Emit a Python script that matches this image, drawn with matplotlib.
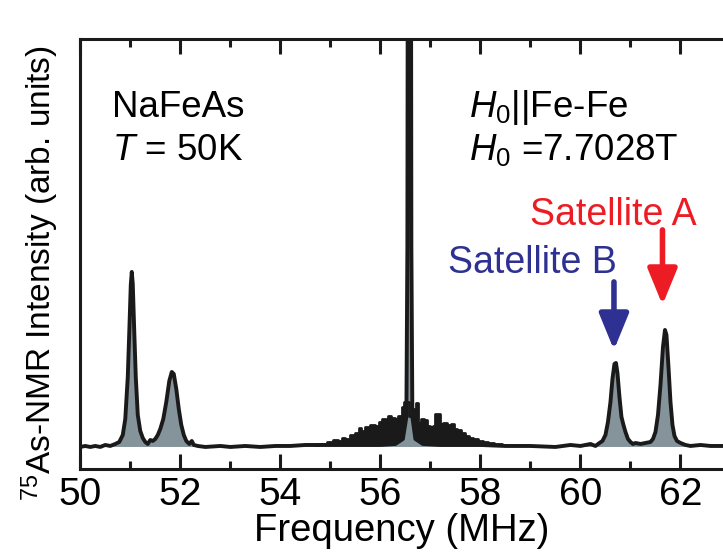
import matplotlib
matplotlib.use("Agg")
import matplotlib.pyplot as plt
from matplotlib.ticker import MultipleLocator

plt.rcParams['font.family'] = ['Liberation Sans', 'DejaVu Sans']
plt.rcParams['mathtext.fontset'] = 'custom'
plt.rcParams['mathtext.rm'] = 'Liberation Sans'
plt.rcParams['mathtext.it'] = 'Liberation Sans:italic'

# main spectrum (MHz, arb. units)
freq = [50.00, 50.10, 50.20, 50.30, 50.40, 50.50, 50.60, 50.70, 50.78, 50.85,
        50.90, 50.95, 50.98, 51.01, 51.03, 51.05, 51.08, 51.11, 51.15, 51.20,
        51.25, 51.30, 51.35, 51.40, 51.45, 51.50, 51.55, 51.60, 51.66, 51.72,
        51.78, 51.83, 51.87, 51.92, 51.97, 52.02, 52.07, 52.12, 52.18, 52.23,
        52.27, 52.35, 52.50, 52.80, 53.00, 53.30, 53.60, 53.90, 54.20, 54.50,
        54.80, 55.20, 55.60, 56.00, 56.30, 56.45, 56.52, 56.54, 56.565, 56.595,
        56.62, 56.64, 56.70, 56.85, 57.20, 57.60, 58.00, 58.50, 59.00, 59.50,
        59.80, 60.00, 60.20, 60.30, 60.38, 60.44, 60.50, 60.55, 60.60, 60.64,
        60.68, 60.71, 60.74, 60.78, 60.82, 60.86, 60.90, 60.95, 61.00, 61.05,
        61.10, 61.20, 61.30, 61.40, 61.45, 61.50, 61.55, 61.60, 61.65, 61.69,
        61.72, 61.76, 61.80, 61.84, 61.88, 61.93, 62.00, 62.10, 62.20, 62.40,
        62.60, 62.90]
intensity = [0.00, 0.01, 0.00, 0.01, 0.00, 0.02, 0.01, 0.03, 0.05, 0.12,
             0.28, 0.70, 1.15, 1.62, 1.75, 1.63, 1.15, 0.70, 0.32, 0.16,
             0.09, 0.05, 0.03, 0.07, 0.06, 0.08, 0.12, 0.18, 0.28, 0.45,
             0.66, 0.75, 0.73, 0.58, 0.38, 0.22, 0.12, 0.06, 0.03, 0.06,
             0.02, 0.01, 0.00, 0.01, 0.00, 0.01, 0.00, 0.01, 0.01, 0.02,
             0.02, 0.02, 0.02, 0.02, 0.03, 0.08, 0.30, 2.00, 12.0, 12.0,
             2.00, 0.30, 0.08, 0.03, 0.02, 0.02, 0.02, 0.01, 0.01, 0.00,
             0.02, 0.01, 0.03, 0.01, 0.04, 0.06, 0.12, 0.25, 0.45, 0.68,
             0.83, 0.84, 0.74, 0.50, 0.30, 0.22, 0.15, 0.08, 0.05, 0.03,
             0.04, 0.03, 0.04, 0.05, 0.08, 0.15, 0.32, 0.62, 1.00, 1.17,
             1.12, 0.80, 0.45, 0.22, 0.11, 0.06, 0.04, 0.02, 0.01, 0.02,
             0.01, 0.01]

# broad noisy hump around the central line (envelope)
hump_freq = [54.70, 54.85, 55.00, 55.10, 55.20, 55.25, 55.35, 55.45, 55.55, 55.58,
             55.65, 55.75, 55.85, 55.95, 56.00, 56.08, 56.14, 56.18, 56.25, 56.32,
             56.40, 56.45, 56.50, 56.66, 56.70, 56.74, 56.78, 56.84, 56.90, 56.96,
             57.02, 57.08, 57.12, 57.18, 57.22, 57.30, 57.38, 57.44, 57.50, 57.58,
             57.66, 57.74, 57.82, 57.90, 58.00, 58.10, 58.20, 58.35, 58.50]
hump_top = [0.02, 0.03, 0.05, 0.07, 0.06, 0.09, 0.08, 0.12, 0.14, 0.19,
            0.16, 0.20, 0.22, 0.21, 0.25, 0.28, 0.26, 0.31, 0.29, 0.28,
            0.31, 0.40, 0.45, 0.31, 0.38, 0.44, 0.24, 0.28, 0.27, 0.21,
            0.20, 0.21, 0.33, 0.33, 0.23, 0.24, 0.22, 0.23, 0.18, 0.17,
            0.14, 0.11, 0.09, 0.08, 0.06, 0.05, 0.04, 0.03, 0.02]

x_major = [50, 52, 54, 56, 58, 60, 62]

fig = plt.figure(figsize=(7.23, 5.55), dpi=100)
ax = fig.add_axes([0.111, 0.155, 0.889, 0.775])

ink = '#1a1a1a'
ax.fill_between(hump_freq, 0.02, hump_top, step='mid', color=ink, lw=0)
ax.step(hump_freq, hump_top, where='mid', color=ink, lw=2.0)
ax.fill_between(freq, 0, intensity, color='#85939a', lw=0)
ax.plot(freq, intensity, color=ink, lw=2.8, solid_joinstyle='round')

ax.set_xlim(50, 62.85)
ax.set_ylim(-0.22, 4.08)
ax.set_xticks(x_major)
ax.xaxis.set_minor_locator(MultipleLocator(1))
ax.set_yticks([])
ax.tick_params(axis='x', which='both', direction='in', top=True, width=2.2,
               labelsize=28, pad=6, color=ink)
ax.tick_params(axis='x', which='major', length=11)
ax.tick_params(axis='x', which='minor', length=6)
for s in ['left', 'bottom', 'top']:
    ax.spines[s].set_linewidth(2.2)
    ax.spines[s].set_color(ink)
ax.spines['right'].set_visible(False)

ax.set_xlabel('Frequency (MHz)', fontsize=27.5, labelpad=0)
ax.set_ylabel('$^{75}$As-NMR Intensity (arb. units)', fontsize=24)
ax.yaxis.set_label_coords(-0.03, 0.455)

ax.text(50.63, 3.30, 'NaFeAs', fontsize=26.5)
ax.text(50.63, 2.87, '$T$ = 50K', fontsize=26.5)
ax.text(57.78, 3.30, '$H_0$||Fe-Fe', fontsize=26.5)
ax.text(57.78, 2.87, '$H_0$ =7.7028T', fontsize=26.5)

ax.text(60.65, 2.22, 'Satellite A', fontsize=27, color='#ed1c24', ha='center')
ax.text(59.05, 1.74, 'Satellite B', fontsize=27, color='#2e3192', ha='center')
ax.annotate('', xy=(61.64, 1.42), xytext=(61.64, 2.17),
            arrowprops=dict(arrowstyle='-|>,head_length=1.1,head_width=0.45',
                            lw=4, color='#ed1c24', mutation_scale=20,
                            shrinkA=0, shrinkB=0))
ax.annotate('', xy=(60.67, 0.97), xytext=(60.67, 1.65),
            arrowprops=dict(arrowstyle='-|>,head_length=1.1,head_width=0.45',
                            lw=4, color='#2e3192', mutation_scale=20,
                            shrinkA=0, shrinkB=0))

fig.savefig('out.png', dpi=100)
